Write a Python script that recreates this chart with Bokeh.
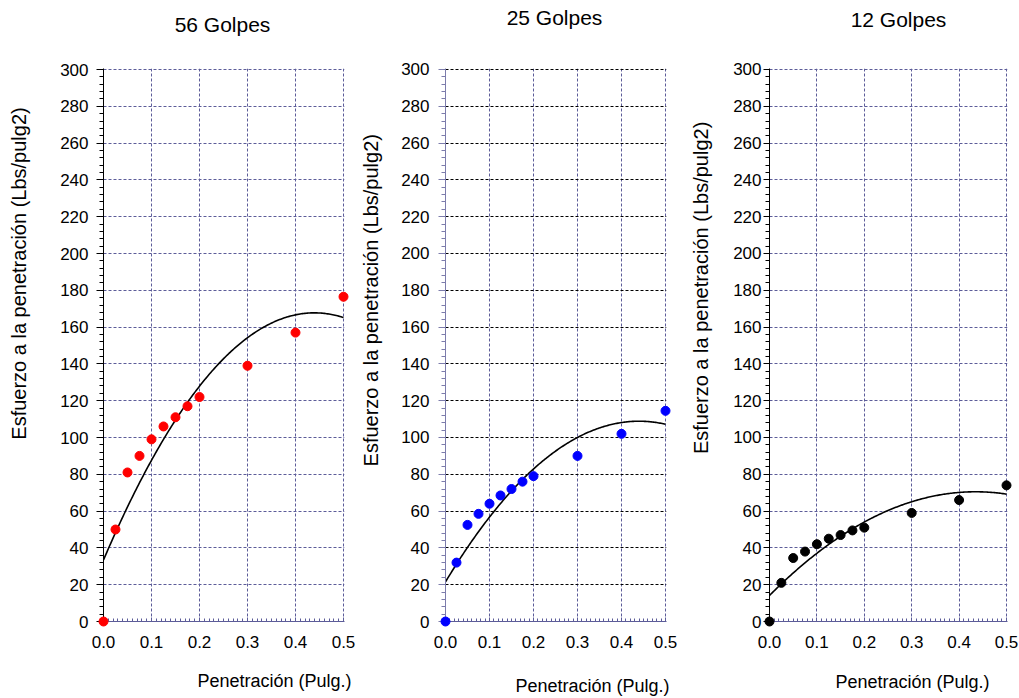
import numpy as np
from bokeh.plotting import figure
from bokeh.layouts import row
from bokeh.models import Range1d, FixedTicker, PrintfTickFormatter
from bokeh.core.properties import value
from bokeh.embed import file_html
from bokeh.resources import INLINE

# ---------------- data ----------------
penetracion = [0.0, 0.025, 0.05, 0.075, 0.1, 0.125, 0.15, 0.175, 0.2, 0.3, 0.4, 0.5]
esfuerzo_56 = [0, 50, 81, 90, 99, 106, 111, 117, 122, 139, 157, 176.5]
esfuerzo_25 = [0, 32, 52.5, 58.5, 64, 68.5, 72, 76, 79, 90, 102, 114.5]
esfuerzo_12 = [0, 21, 34.5, 38, 42, 45, 47, 49.5, 51, 59, 66, 74]
titles = ["56 Golpes", "25 Golpes", "12 Golpes"]
point_colors = ["#ff0000", "#0000ff", "#000000"]
x_ticks = [0.0, 0.1, 0.2, 0.3, 0.4, 0.5]
y_ticks = list(range(0, 301, 20))
x_label = "Penetración (Pulg.)"
y_label = "Esfuerzo a la penetración (Lbs/pulg2)"

FONT = "Liberation Sans"
GRID = "#5c5c99"
DASH = "3 2"
H = 698

# page-pixel layout of each panel (frame edges and text centres)
panels = [
    dict(off=0, w=358, L=103, R=343, T=69, B=621, title=(222, 24), xl=(274, 680), yl=(18, 273),
         yaxis="black", hgrid=GRID, tick_out=7, standoff=8),
    dict(off=358, w=322, L=445, R=665, T=67, B=622, title=(554, 15), xl=(592, 687), yl=(370, 299),
         yaxis="#7c7cab", hgrid="black", tick_out=7, standoff=9),
    dict(off=680, w=339, L=769, R=1006, T=66, B=622, title=(898, 16), xl=(912, 683), yl=(700, 286),
         yaxis="black", hgrid=GRID, tick_out=6, standoff=2),
]
series = [esfuerzo_56, esfuerzo_25, esfuerzo_12]

figs = []
for cfg, ys, col, ttl in zip(panels, series, point_colors, titles):
    L, R, T, B, off, w = cfg["L"], cfg["R"], cfg["T"], cfg["B"], cfg["off"], cfg["w"]
    # ranges slightly padded so that the 300 / 0.5 grid lines (frame border) are drawn
    p = figure(width=w, height=H, x_range=Range1d(0, 0.5 * (R - L + 1) / (R - L)),
               y_range=Range1d(0, 300 * (B - T + 1) / (B - T)),
               output_backend="svg", toolbar_location=None,
               min_border_left=L - off, min_border_right=off + w - R - 1,
               min_border_top=T - 1, min_border_bottom=H - B)
    p.outline_line_color = None
    p.background_fill_color = "white"
    p.border_fill_color = "white"

    # x axis
    p.xaxis.ticker = FixedTicker(ticks=x_ticks, minor_ticks=[i / 100 for i in range(51)])
    p.xaxis.formatter = PrintfTickFormatter(format="%.1f")
    p.xaxis.axis_line_color = GRID
    p.xaxis.major_tick_line_color = GRID
    p.xaxis.minor_tick_line_color = GRID
    p.xaxis.major_tick_in = 4
    p.xaxis.major_tick_out = 0
    p.xaxis.minor_tick_in = 3
    p.xaxis.minor_tick_out = 0
    p.xaxis.major_label_standoff = 14
    p.xaxis.major_label_text_font = FONT
    p.xaxis.major_label_text_font_size = "17px"
    p.xaxis.major_label_text_color = "black"

    # y axis
    p.yaxis.ticker = FixedTicker(ticks=y_ticks, minor_ticks=list(range(0, 301, 4)))
    p.yaxis.axis_line_color = cfg["yaxis"]
    p.yaxis.major_tick_line_color = cfg["yaxis"]
    p.yaxis.minor_tick_line_color = cfg["yaxis"]
    p.yaxis.major_tick_in = 0
    p.yaxis.major_tick_out = cfg["tick_out"]
    p.yaxis.minor_tick_in = 0
    p.yaxis.minor_tick_out = 4
    p.yaxis.major_label_standoff = cfg["standoff"]
    p.yaxis.major_label_text_font = FONT
    p.yaxis.major_label_text_font_size = "17px"
    p.yaxis.major_label_text_color = "black"

    # grids
    p.xgrid.ticker = FixedTicker(ticks=x_ticks)
    p.ygrid.ticker = FixedTicker(ticks=y_ticks)
    p.xgrid.grid_line_color = GRID
    p.xgrid.grid_line_dash = DASH
    p.ygrid.grid_line_color = cfg["hgrid"]
    p.ygrid.grid_line_dash = DASH

    # trend line (2nd order polynomial fit of the data) and points
    coef = np.polyfit(penetracion, ys, 2)
    xs = np.linspace(0, 0.5, 200)
    p.line(xs, np.polyval(coef, xs), line_color="black", line_width=1.6)
    p.scatter(penetracion, ys, size=9, fill_color=col, line_color=col, level="overlay")

    # title and axis titles: page pixel -> data coordinates of this panel
    def dx(xi, L=L, R=R):
        return (xi - L) * 0.5 / (R - L)

    def dy(yi, T=T, B=B):
        return (B - yi) * 300 / (B - T)

    for (cx, cy), txt, fs, ang in [(cfg["title"], ttl, "21px", 0.0),
                                  (cfg["xl"], x_label, "18px", 0.0),
                                  (cfg["yl"], y_label, "20px", np.pi / 2)]:
        p.text(x=[dx(cx)], y=[dy(cy)], text=[txt], angle=ang, level="overlay",
               text_align="center", text_baseline="middle",
               text_font=value(FONT), text_font_size=value(fs), text_color="black")
    figs.append(p)

layout = row(*figs, spacing=0)
open("out.html", "w").write(file_html(layout, INLINE))
